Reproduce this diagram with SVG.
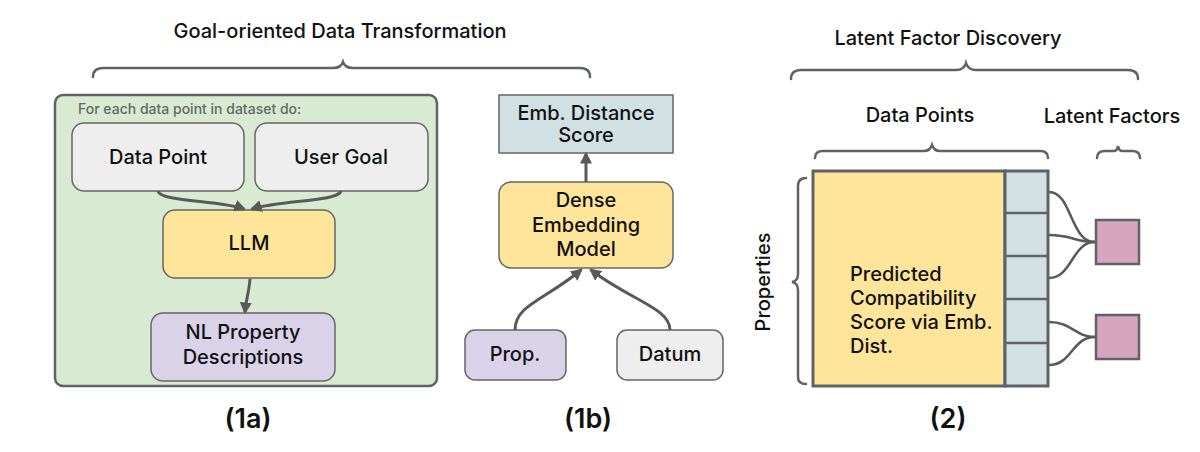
<svg xmlns="http://www.w3.org/2000/svg" width="1200" height="452" viewBox="0 0 1200 452">
<style>
text{font-family:Inter,"Noto Sans",sans-serif;fill:#111;font-weight:500}
.t{font-size:20px;text-anchor:middle}
.h{font-size:20px;text-anchor:middle}
.p{font-size:20px}
.lab{font-size:27px;text-anchor:middle;font-weight:600}
.br{fill:none;stroke:#5f6368;stroke-width:2.5;stroke-linecap:round}
.box{stroke:#666;stroke-width:1.5}
.con{fill:none;stroke:#595959;stroke-width:3}
.thin{fill:none;stroke:#595959;stroke-width:2.5}
</style>
<defs>
<marker id="ah" viewBox="0 0 10 10" refX="8" refY="5" markerWidth="4" markerHeight="4" orient="auto"><path d="M0,0 L10,5 L0,10 z" fill="#595959"/></marker>
<marker id="ahs" viewBox="0 0 10 10" refX="9" refY="5" markerWidth="7" markerHeight="7" orient="auto"><path d="M0,1 L10,5 L0,9 z" fill="#595959"/></marker>
</defs>
<rect width="1200" height="452" fill="#fff"/>

<g id="title-1">
<text class="h" x="340" y="38">Goal-oriented Data Transformation</text>
<path class="br" d="M93,77 Q93,68 103,68 L333,68 Q341,68 343,62 Q345,68 353,68 L580,68 Q590,68 590,77"/>
</g>

<g id="loop">
<rect x="55" y="95" width="382" height="291" rx="8" fill="#d9ead3" stroke="#5f6368" stroke-width="2.5"/>
<text x="78" y="114" style="font-size:14px;fill:#666">For each data point in dataset do:</text>
</g>
<g id="data-point"><rect class="box" x="72" y="123" width="172" height="68" rx="12" fill="#eeeeee"/><text class="t" x="158" y="164">Data Point</text></g>
<g id="user-goal"><rect class="box" x="255" y="123" width="173" height="68" rx="12" fill="#eeeeee"/><text class="t" x="341" y="164">User Goal</text></g>
<g id="llm"><rect class="box" x="163" y="210" width="172" height="68" rx="12" fill="#fee599"/><text class="t" x="249" y="250">LLM</text></g>
<g id="nl-prop"><rect class="box" x="151" y="313" width="184" height="68" rx="12" fill="#d9d2e9"/><text class="t" x="243" y="339">NL Property</text><text class="t" x="243" y="364">Descriptions</text></g>

<g id="emb-score"><rect class="box" x="499" y="95" width="174" height="58" fill="#d0e0e3"/><text class="t" x="586" y="120">Emb. Distance</text><text class="t" x="586" y="142">Score</text></g>
<g id="dense"><rect class="box" x="499" y="182" width="174" height="86" rx="12" fill="#fee599"/><text class="t" x="586" y="207">Dense</text><text class="t" x="586" y="232">Embedding</text><text class="t" x="586" y="256">Model</text></g>
<g id="prop"><rect class="box" x="465" y="330" width="101" height="50" rx="10" fill="#d9d2e9"/><text class="t" x="515" y="361">Prop.</text></g>
<g id="datum"><rect class="box" x="617" y="330" width="106" height="50" rx="10" fill="#eeeeee"/><text class="t" x="670" y="361">Datum</text></g>

<g id="connectors">
<path class="con" marker-end="url(#ah)" d="M158,191 C160,202 220,200 244,209"/>
<path class="con" marker-end="url(#ah)" d="M341,191 C338,202 280,200 252,209"/>
<path class="con" marker-end="url(#ah)" d="M250,279 C249,292 246,300 245,312"/>
<path class="con" marker-end="url(#ah)" d="M586,182 L586,154"/>
<path class="con" marker-end="url(#ah)" d="M515,330 C515,305 545,300 581,270"/>
<path class="con" marker-end="url(#ah)" d="M670,330 C670,308 630,300 591,270"/>
<path fill="none" stroke="#595959" stroke-width="1.5" marker-end="url(#ahs)" d="M925,248 C925,215 960,195 1003,192"/>
<path class="thin" d="M1049,192 C1072,192 1070,242 1095,242"/>
<path class="thin" d="M1049,235 C1072,235 1075,242 1095,242"/>
<path class="thin" d="M1049,278 C1072,278 1072,242 1095,242"/>
<path class="thin" d="M1049,322 C1072,322 1075,337 1095,337"/>
<path class="thin" d="M1049,365 C1072,365 1072,337 1095,337"/>
</g>

<g id="title-2">
<text class="h" x="948" y="45">Latent Factor Discovery</text>
<path class="br" d="M791,79 Q791,70 801,70 L956,70 Q964,70 966,63 Q968,70 976,70 L1128,70 Q1138,70 1138,79"/>
<text class="h" x="920" y="122">Data Points</text>
<path class="br" d="M815,158 Q815,151 823,151 L924,151 Q930,151 932,145 Q934,151 940,151 L1040,151 Q1048,151 1048,158"/>
<text class="h" x="1112" y="123">Latent Factors</text>
<path class="br" d="M1097,158 Q1097,151 1105,151 L1114,151 Q1117,151 1118,146 Q1119,151 1122,151 L1132,151 Q1140,151 1140,158"/>
<text class="h" transform="translate(770,282) rotate(-90)" x="0" y="0">Properties</text>
<path class="br" d="M806,178 Q798,178 798,186 L798,274 Q798,281 792,282 Q798,283 798,290 L798,377 Q798,384 806,384"/>
</g>

<g id="matrix">
<rect x="813" y="171" width="192" height="215" fill="#fee599" stroke="#5f6368" stroke-width="3"/>
<text class="p" x="850" y="281">Predicted</text>
<text class="p" x="850" y="305">Compatibility</text>
<text class="p" x="850" y="329">Score via Emb.</text>
<text class="p" x="850" y="353">Dist.</text>
</g>
<g id="column">
<rect x="1005" y="171" width="43" height="215" fill="#d0e0e3" stroke="#5f6368" stroke-width="3"/>
<path d="M1005,213 H1048 M1005,256 H1048 M1005,299 H1048 M1005,343 H1048" stroke="#5f6368" stroke-width="2.5"/>
</g>
<g id="factor-1"><rect x="1096" y="220" width="43" height="44" fill="#d5a6bd" stroke="#5f6368" stroke-width="2.5"/></g>
<g id="factor-2"><rect x="1096" y="315" width="43" height="44" fill="#d5a6bd" stroke="#5f6368" stroke-width="2.5"/></g>

<g id="labels">
<text class="lab" x="248" y="428">(1a)</text>
<text class="lab" x="588" y="428">(1b)</text>
<text class="lab" x="948" y="428">(2)</text>
</g>
</svg>
